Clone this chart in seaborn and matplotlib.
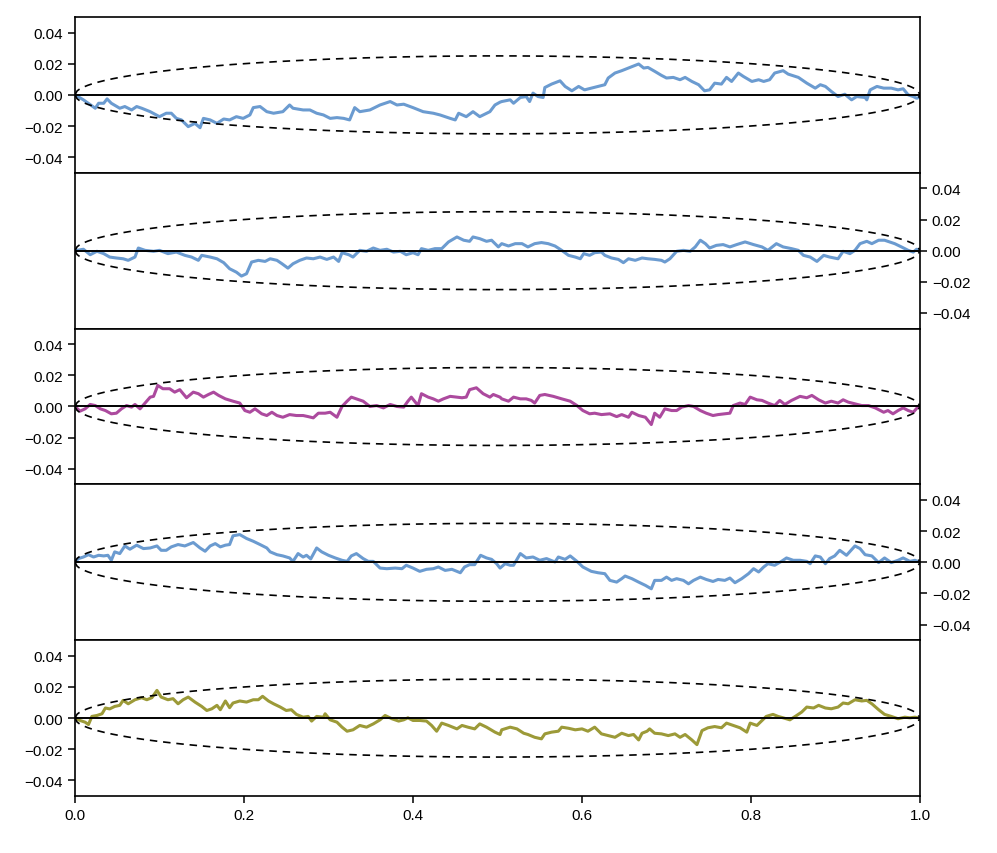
import numpy as np
import pandas as pd
import seaborn as sns
import matplotlib
matplotlib.use("Agg")
import matplotlib.pyplot as plt

# five bridge paths (in units of 1e-3)
t1 = [0.000, 0.010, 0.024, 0.028, 0.034, 0.038, 0.043, 0.053, 0.059, 0.067, 0.073, 0.079, 0.089, 0.100,
      0.108, 0.114, 0.120, 0.126, 0.134, 0.142, 0.148, 0.152, 0.160, 0.168, 0.176, 0.183, 0.191, 0.199,
      0.207, 0.211, 0.219, 0.227, 0.235, 0.246, 0.254, 0.258, 0.270, 0.278, 0.286, 0.294, 0.302, 0.310,
      0.318, 0.325, 0.331, 0.337, 0.349, 0.361, 0.373, 0.381, 0.389, 0.400, 0.412, 0.424, 0.432, 0.444,
      0.450, 0.454, 0.463, 0.471, 0.479, 0.491, 0.497, 0.503,
      0.505, 0.515, 0.519, 0.527, 0.534, 0.538, 0.542, 0.548, 0.554, 0.556, 0.564, 0.574, 0.580, 0.588,
      0.596, 0.603, 0.611, 0.619, 0.627, 0.631, 0.639, 0.647, 0.655, 0.663, 0.667, 0.673, 0.678, 0.686,
      0.694, 0.700, 0.708, 0.716, 0.722, 0.730, 0.738, 0.745, 0.751, 0.757, 0.765, 0.771, 0.777, 0.785,
      0.791, 0.801, 0.809, 0.815, 0.822, 0.828, 0.838, 0.844, 0.856, 0.866, 0.876, 0.882, 0.888, 0.895,
      0.903, 0.911, 0.919, 0.925, 0.935, 0.937, 0.941, 0.949, 0.957, 0.966, 0.974, 0.980, 0.986, 0.992,
      0.996, 1.000]
v1 = [0, -3.2, -8.6, -5.4, -5.4, -2.6, -5.4, -8.6, -7.5, -9.7, -7.5, -8.6, -10.8, -14.0,
      -11.8, -11.8, -15.1, -16.1, -20.4, -18.3, -21.1, -15.1, -16.1, -18.3, -15.5, -16.1, -14.0, -15.1,
      -12.9, -8.2, -7.5, -10.8, -11.8, -10.8, -6.5, -8.6, -9.7, -9.7, -11.8, -12.9, -15.1, -14.6,
      -15.1, -16.1, -8.2, -10.8, -9.7, -6.5, -4.3, -6.5, -6.0, -8.2, -10.8, -11.8, -12.9, -15.1,
      -16.1, -11.8, -14.0, -10.8, -14.0, -10.8, -6.5, -4.7,
      -4.3, -3.2, -5.4, -1.7, -1.1, -4.3, 1.1, -1.1, -1.7, 4.7, 6.9, 9.0, 5.4, 2.6,
      5.4, 3.2, 4.3, 5.4, 6.5, 10.8, 14.0, 15.5, 17.2, 18.9, 19.8, 17.2, 17.6, 15.1,
      12.5, 10.8, 11.2, 9.7, 11.2, 8.6, 6.5, 2.6, 3.2, 7.5, 6.9, 11.2, 8.6, 14.0,
      11.8, 8.6, 9.7, 8.6, 9.7, 14.0, 15.5, 13.3, 11.2, 7.5, 4.3, 6.5, 5.4, 2.2,
      -1.1, 0.4, -3.2, -1.1, -1.7, -3.2, 3.2, 5.4, 4.3, 4.3, 3.2, 3.9, 0.0, -1.1,
      -2.2, -1.5]

t2 = [0.000, 0.010, 0.018, 0.026, 0.034, 0.041, 0.049, 0.057, 0.063, 0.071, 0.075, 0.083, 0.093, 0.100,
      0.110, 0.120, 0.130, 0.138, 0.146, 0.150, 0.160, 0.168, 0.176, 0.183, 0.191, 0.197, 0.203, 0.209,
      0.217, 0.225, 0.231, 0.239, 0.245, 0.252, 0.258, 0.266, 0.274, 0.282, 0.290, 0.298, 0.306, 0.312,
      0.316, 0.324, 0.329, 0.337, 0.345, 0.353, 0.361, 0.369, 0.377, 0.385, 0.392, 0.400, 0.406, 0.410,
      0.418, 0.426, 0.434, 0.442, 0.452, 0.460, 0.467, 0.471, 0.479, 0.487, 0.493, 0.501,
      0.505, 0.513, 0.521, 0.529, 0.536, 0.544, 0.552, 0.560, 0.568, 0.576, 0.584, 0.592, 0.598, 0.602,
      0.609, 0.615, 0.623, 0.627, 0.635, 0.643, 0.649, 0.655, 0.663, 0.671, 0.678, 0.686, 0.694, 0.698,
      0.704, 0.712, 0.720, 0.728, 0.734, 0.740, 0.746, 0.751, 0.759, 0.767, 0.775, 0.783, 0.793, 0.803,
      0.813, 0.820, 0.830, 0.838, 0.848, 0.856, 0.862, 0.870, 0.878, 0.886, 0.893, 0.903, 0.909, 0.917,
      0.923, 0.929, 0.937, 0.943, 0.951, 0.958, 0.964, 0.970, 0.978, 0.986, 0.992, 0.996, 1.000]
v2 = [0, 0.9, -2.6, -0.4, -1.9, -4.1, -4.7, -5.2, -6.2, -4.1, 1.7, 0.2, -0.4, 0.2,
      -1.9, -0.9, -3.0, -4.1, -6.2, -3.0, -4.1, -5.2, -7.7, -11.6, -13.8, -16.3, -14.8, -7.3,
      -6.2, -6.9, -5.2, -6.2, -8.4, -11.2, -8.4, -6.2, -4.7, -5.2, -4.1, -5.6, -4.1, -6.9,
      -1.3, -2.6, -4.1, 0.2, -0.4, 1.7, 0.2, 0.9, -0.9, -0.4, -2.6, -1.3, -2.6, 1.3,
      0.2, 1.3, 1.3, 5.6, 8.8, 6.7, 6.0, 8.8, 7.7, 6.0, 6.7, 2.4,
      4.5, 3.0, 4.5, 4.5, 2.4, 4.5, 5.2, 4.5, 3.0, 0.2, -3.0, -4.1, -5.2, -1.9,
      -3.0, -1.3, -0.9, -3.0, -4.7, -5.6, -7.7, -5.2, -6.2, -4.7, -5.2, -5.6, -6.2, -7.3,
      -5.2, -0.4, 0.2, -0.4, 2.4, 6.7, 4.5, 1.7, 3.4, 3.9, 2.4, 3.9, 5.6, 3.9,
      2.4, 0.2, 4.5, 2.4, 1.3, 0.2, -3.0, -4.1, -6.9, -3.0, -4.1, -5.2, -0.4, -1.9,
      0.2, 4.5, 6.0, 4.5, 6.7, 6.7, 5.6, 4.5, 2.4, 0.2, -0.9, 0.9, 0]

t3 = [0.000, 0.006, 0.012, 0.018, 0.024, 0.030, 0.036, 0.043, 0.049, 0.055, 0.061, 0.067, 0.071, 0.077,
      0.083, 0.089, 0.093, 0.098, 0.104, 0.112, 0.118, 0.124, 0.132, 0.140, 0.146, 0.152, 0.158, 0.164,
      0.170, 0.178, 0.187, 0.195, 0.201, 0.207, 0.213, 0.221, 0.227, 0.233, 0.239, 0.246, 0.254, 0.262,
      0.270, 0.276, 0.282, 0.288, 0.296, 0.302, 0.310, 0.316, 0.322, 0.327, 0.333, 0.341, 0.349, 0.357,
      0.365, 0.373, 0.381, 0.389, 0.394, 0.398, 0.406, 0.410, 0.418, 0.424, 0.430, 0.436, 0.444, 0.452,
      0.458, 0.463, 0.467, 0.475, 0.483, 0.491, 0.495, 0.503,
      0.505, 0.513, 0.519, 0.527, 0.534, 0.540, 0.544, 0.550, 0.556, 0.566, 0.576, 0.586, 0.594, 0.601,
      0.609, 0.615, 0.623, 0.633, 0.641, 0.647, 0.655, 0.659, 0.667, 0.675, 0.682, 0.686, 0.692, 0.698,
      0.706, 0.712, 0.718, 0.726, 0.732, 0.740, 0.747, 0.755, 0.761, 0.769, 0.775, 0.779, 0.787, 0.793,
      0.799, 0.807, 0.813, 0.820, 0.828, 0.834, 0.840, 0.848, 0.858, 0.866, 0.872, 0.880, 0.888, 0.895,
      0.903, 0.909, 0.915, 0.923, 0.931, 0.939, 0.947, 0.957, 0.962, 0.968, 0.974, 0.980, 0.986, 0.992,
      0.998, 1.000]
v3 = [0, -3.0, -1.5, 1.3, 0.6, -1.5, -2.6, -4.7, -4.3, -1.5, 0.6, -0.4, 1.3, -1.5,
      2.2, 6.0, 6.5, 13.5, 11.4, 11.4, 9.2, 10.8, 5.6, 9.2, 8.2, 6.0, 7.7, 9.2,
      7.1, 4.9, 3.4, 2.2, -2.6, -3.7, -1.5, -4.7, -5.8, -3.7, -5.8, -6.9, -5.2, -5.8,
      -5.8, -6.5, -7.3, -4.3, -4.3, -3.7, -6.9, 0, 3.4, 6.0, 4.9, 3.4, 0, 0.6,
      -0.9, 1.3, 0, -0.4, 3.4, 6.0, 0.6, 8.2, 6.0, 4.9, 3.4, 4.9, 6.5, 6.0,
      5.6, 6.0, 10.8, 12.0, 8.2, 6.0, 7.7, 6.0,
      4.9, 3.4, 6.0, 4.9, 4.9, 3.9, 2.2, 7.1, 7.7, 6.5, 4.9, 3.4, 0.6, -2.6,
      -4.7, -4.3, -5.2, -4.7, -6.5, -5.2, -6.9, -3.7, -5.8, -6.9, -11.6, -4.3, -6.9, -1.5,
      -2.6, -2.6, -0.4, 0.6, 0, -2.6, -4.3, -5.8, -5.2, -4.7, -4.3, 0.6, 2.2, 1.3,
      6.0, 4.3, 3.9, 2.2, 0.6, 3.9, 1.3, 3.9, 6.5, 5.6, 7.1, 4.3, 2.2, 3.4,
      2.2, 4.3, 2.8, 1.7, 0.6, 0.6, -0.9, -3.7, -2.6, -4.7, -2.6, -0.9, -2.6, -3.7,
      0, 0]

t4 = [0.000, 0.004, 0.010, 0.016, 0.022, 0.028, 0.034, 0.039, 0.043, 0.047, 0.053, 0.059, 0.065, 0.073,
      0.081, 0.089, 0.097, 0.102, 0.108, 0.114, 0.122, 0.130, 0.140, 0.148, 0.154, 0.160, 0.166, 0.172,
      0.178, 0.183, 0.187, 0.195, 0.203, 0.211, 0.219, 0.227, 0.231, 0.239, 0.246, 0.254, 0.258, 0.264,
      0.270, 0.274, 0.279, 0.286, 0.292, 0.300, 0.308, 0.316, 0.322, 0.327, 0.333, 0.341, 0.347, 0.353,
      0.361, 0.369, 0.379, 0.387, 0.392, 0.400, 0.408, 0.416, 0.424, 0.430, 0.438, 0.446, 0.456, 0.461,
      0.467, 0.473, 0.480, 0.487, 0.493, 0.499, 0.503,
      0.509, 0.515, 0.519, 0.527, 0.534, 0.542, 0.550, 0.558, 0.568, 0.572, 0.580, 0.586, 0.594, 0.601,
      0.611, 0.619, 0.627, 0.633, 0.641, 0.647, 0.651, 0.659, 0.667, 0.675, 0.682, 0.686, 0.694, 0.700,
      0.706, 0.712, 0.720, 0.726, 0.732, 0.740, 0.747, 0.755, 0.761, 0.769, 0.775, 0.781, 0.789, 0.797,
      0.803, 0.809, 0.815, 0.820, 0.828, 0.836, 0.842, 0.850, 0.858, 0.866, 0.870, 0.876, 0.882, 0.888,
      0.893, 0.899, 0.905, 0.913, 0.923, 0.929, 0.935, 0.943, 0.951, 0.958, 0.966, 0.974, 0.980, 0.988,
      0.994, 1.000]
v4 = [0, 2.4, 3.4, 4.9, 3.4, 4.5, 4.1, 4.5, 1.3, 6.7, 5.6, 10.5, 8.4, 11.0,
      8.8, 9.2, 10.5, 7.7, 7.7, 9.9, 11.4, 10.5, 12.7, 9.2, 7.1, 10.5, 12.0, 9.9,
      11.0, 11.4, 17.0, 17.8, 15.3, 13.5, 11.4, 9.2, 6.7, 4.9, 4.1, 2.8, 0.6, 5.6,
      3.4, 4.5, 2.2, 9.2, 6.7, 4.5, 2.8, 1.3, 0.6, 4.1, 5.6, 2.4, 0.6, 0.6,
      -3.7, -4.1, -3.7, -4.1, -1.9, -3.7, -5.8, -4.5, -4.1, -3.0, -5.2, -4.5, -6.7, -3.0,
      -1.5, -1.5, 4.5, 2.8, 1.9, -0.9, -3.7,
      -0.9, -1.9, -1.9, 5.6, 2.8, 3.4, 1.3, 2.4, 0.2, 3.4, 1.9, 4.1, 0.6, -3.0,
      -5.8, -6.7, -7.3, -11.6, -12.7, -10.5, -8.8, -10.5, -12.7, -14.8, -17.0, -11.6, -11.6, -9.5,
      -11.6, -10.5, -11.6, -13.8, -11.6, -9.5, -11.0, -12.3, -11.0, -11.6, -10.1, -13.1, -10.5, -7.3,
      -4.1, -6.2, -3.0, -0.9, -1.9, 0.6, 2.8, 1.3, 1.3, 0.6, -0.9, 4.1, 3.4, -0.9,
      2.4, 4.1, 7.7, 4.5, 10.5, 8.8, 4.9, 4.1, -0.2, 2.8, -0.2, 1.3, 2.8, 0.6,
      1.3, 0]

t5 = [0.000, 0.006, 0.012, 0.016, 0.020, 0.026, 0.032, 0.036, 0.041, 0.047, 0.053, 0.057, 0.063, 0.071,
      0.079, 0.085, 0.091, 0.097, 0.102, 0.110, 0.116, 0.122, 0.128, 0.134, 0.142, 0.150, 0.156, 0.162,
      0.168, 0.172, 0.178, 0.183, 0.187, 0.195, 0.203, 0.211, 0.217, 0.222, 0.229, 0.235, 0.243, 0.250,
      0.256, 0.262, 0.270, 0.276, 0.280, 0.286, 0.294, 0.296, 0.302, 0.310, 0.316, 0.322, 0.329, 0.337,
      0.345, 0.353, 0.361, 0.367, 0.375, 0.383, 0.389, 0.394, 0.400, 0.408, 0.416, 0.422, 0.428, 0.434,
      0.442, 0.452, 0.458, 0.465, 0.473, 0.479, 0.487, 0.497, 0.503,
      0.505, 0.515, 0.523, 0.531, 0.536, 0.544, 0.552, 0.556, 0.564, 0.572, 0.576, 0.584, 0.592, 0.600,
      0.607, 0.615, 0.623, 0.631, 0.639, 0.647, 0.655, 0.661, 0.667, 0.671, 0.677, 0.680, 0.686, 0.694,
      0.702, 0.710, 0.716, 0.722, 0.730, 0.736, 0.742, 0.749, 0.757, 0.765, 0.771, 0.779, 0.787, 0.795,
      0.799, 0.807, 0.813, 0.818, 0.826, 0.832, 0.838, 0.846, 0.854, 0.860, 0.866, 0.874, 0.880, 0.888,
      0.895, 0.903, 0.909, 0.915, 0.923, 0.931, 0.937, 0.943, 0.951, 0.958, 0.966, 0.974, 0.982, 0.988,
      0.994, 1.000]
v5 = [0, -1.5, -2.6, -4.1, 1.1, 1.7, 2.8, 6.5, 5.9, 7.5, 8.2, 11.4, 9.2, 11.8,
      13.1, 11.8, 13.1, 17.8, 13.5, 11.8, 12.5, 9.2, 11.8, 13.5, 10.3, 7.5, 4.9, 6.0,
      8.2, 5.4, 11.0, 6.7, 9.7, 11.0, 10.3, 11.8, 11.8, 14.0, 11.0, 9.2, 7.1, 4.9,
      5.4, 2.4, 0.6, 1.1, -1.9, 1.1, 0.6, 2.8, -1.1, -2.6, -5.8, -8.4, -7.5, -4.7,
      -5.8, -3.7, -1.1, 1.7, -0.4, -1.9, -1.1, 0.2, -1.5, -1.5, -1.9, -4.7, -8.4, -3.2,
      -4.7, -6.9, -4.7, -5.8, -6.9, -3.7, -5.8, -9.0, -10.5,
      -7.5, -5.8, -6.9, -9.7, -10.5, -12.3, -13.3, -10.1, -9.0, -8.4, -5.8, -6.5, -7.5, -6.9,
      -8.4, -5.8, -10.1, -11.2, -12.3, -9.7, -11.2, -10.5, -14.0, -9.7, -8.4, -6.9, -9.7, -10.1,
      -11.2, -10.1, -12.3, -10.5, -14.0, -17.0, -8.0, -6.2, -5.4, -6.2, -3.2, -4.7, -6.2, -9.0,
      -3.2, -4.7, -1.5, 1.1, 2.4, 1.1, 0.2, -1.1, 1.7, 3.9, 7.1, 6.5, 8.2, 6.5,
      6.0, 7.1, 9.7, 9.2, 11.8, 11.0, 11.4, 9.2, 5.4, 2.4, 1.1, -0.4, 0.6, 0.2,
      0.6, 0]

paths = [(t1, v1), (t2, v2), (t3, v3), (t4, v4), (t5, v5)]
colors = ["#6b9bd0", "#6b9bd0", "#ac4a9e", "#6b9bd0", "#9c9a38"]
yticks = [-0.04, -0.02, 0.0, 0.02, 0.04]
ytick_labels = ["\u22120.04", "\u22120.02", "0.00", "0.02", "0.04"]
xticks = [0.0, 0.2, 0.4, 0.6, 0.8, 1.0]
xtick_labels = ["0.0", "0.2", "0.4", "0.6", "0.8", "1.0"]

sns.set_style("ticks")
plt.rcParams['font.family'] = ['Liberation Sans', 'DejaVu Sans']
plt.rcParams['axes.linewidth'] = 1.2
plt.rcParams['xtick.color'] = 'black'
plt.rcParams['ytick.color'] = 'black'
plt.rcParams['xtick.labelcolor'] = 'black'
plt.rcParams['ytick.labelcolor'] = 'black'

fig, axes = plt.subplots(5, 1, figsize=(9.97, 8.54), dpi=100, sharex=True)
fig.subplots_adjust(left=0.0752, right=0.9228, top=0.979, bottom=0.0667, hspace=0)

# +/- one standard deviation envelope of the bridge
tt = np.linspace(0, 1, 400)
env = 0.05 * np.sqrt(tt * (1 - tt))

for i, ax in enumerate(axes):
    tx, vy = paths[i]
    df = pd.DataFrame({"t": tx, "v": np.array(vy) * 1e-3})
    sns.lineplot(data=df, x="t", y="v", ax=ax, color=colors[i], linewidth=2.2,
                 sort=False, estimator=None)
    ax.axhline(0, color="black", lw=1.4, zorder=3)
    ax.plot(tt, env, color="black", ls=(0, (4.5, 3.5)), lw=1.2)
    ax.plot(tt, -env, color="black", ls=(0, (4.5, 3.5)), lw=1.2)
    ax.set_xlim(0, 1)
    ax.set_ylim(-0.05, 0.05)
    ax.set_yticks(yticks)
    ax.set_yticklabels(ytick_labels)
    ax.set_xlabel("")
    ax.set_ylabel("")
    if i % 2 == 1:
        ax.yaxis.tick_right()
    ax.tick_params(axis="both", labelsize=11, length=5, width=1.1, direction="out")
    for sp in ax.spines.values():
        sp.set_visible(True)
        sp.set_color("black")
    if i < 4:
        ax.tick_params(axis="x", bottom=False)

axes[-1].set_xticks(xticks)
axes[-1].set_xticklabels(xtick_labels)

fig.savefig("out.png", dpi=100)
